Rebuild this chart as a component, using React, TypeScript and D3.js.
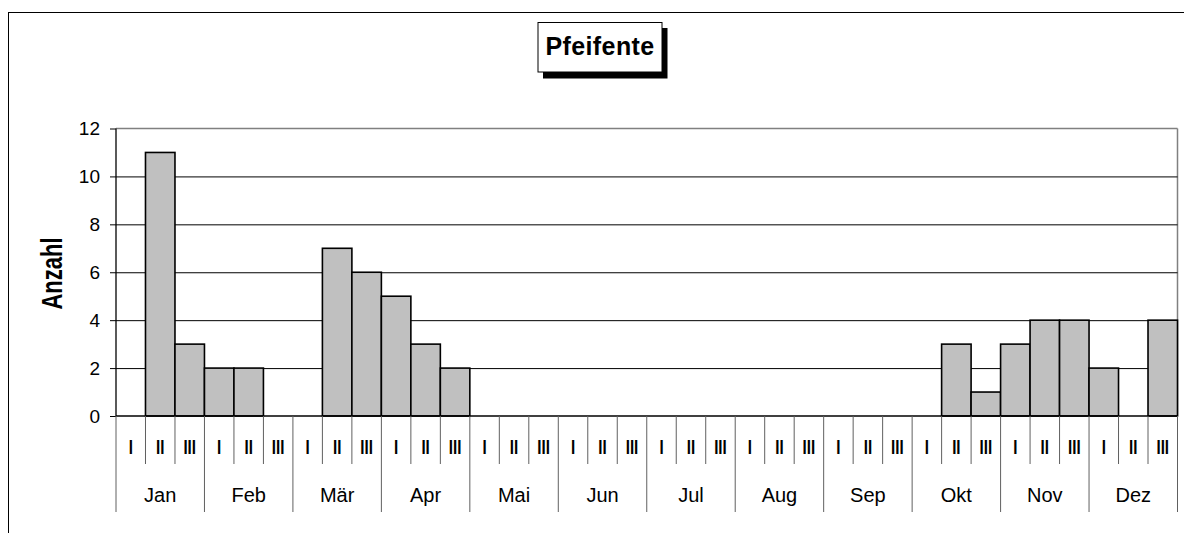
import React from "react";
import * as d3 from "d3";

const months = ["Jan", "Feb", "Mär", "Apr", "Mai", "Jun", "Jul", "Aug", "Sep", "Okt", "Nov", "Dez"];
const thirds = ["I", "II", "III"];
const values = [
  0, 11, 3,
  2, 2, 0,
  0, 7, 6,
  5, 3, 2,
  0, 0, 0,
  0, 0, 0,
  0, 0, 0,
  0, 0, 0,
  0, 0, 0,
  0, 3, 1,
  3, 4, 4,
  2, 0, 4,
];
const yTicks = [0, 2, 4, 6, 8, 10, 12];
const title = "Pfeifente";
const yLabel = "Anzahl";

const W = 1184, H = 533;
const left = 116, right = 1177.5, top = 128.5, bottom = 416;
const font = "Liberation Sans, Arial, sans-serif";

export default function App() {
  const slots = months.flatMap((m) => thirds.map((t) => `${m}-${t}`));
  const x = d3.scaleBand<string>().domain(slots).range([left, right]).padding(0);
  const y = d3.scaleLinear().domain([0, 12]).range([bottom, top]);
  const bw = x.bandwidth();
  const monthX = (i: number) => left + i * 3 * bw;

  return (
    <svg width={W} height={H} style={{ position: "absolute", left: 0, top: 0, background: "#fff" }}>
      <rect x={8.5} y={12.5} width={1300} height={700} fill="none" stroke="#000" strokeWidth={1} />
      {/* plot frame */}
      <line x1={left} x2={right} y1={y(12)} y2={y(12)} stroke="#808080" strokeWidth={1.5} />
      <line x1={right} x2={right} y1={y(12)} y2={bottom} stroke="#808080" strokeWidth={1.5} />
      {yTicks.filter((t) => t > 0 && t < 12).map((t) => (
        <line key={t} x1={left} x2={right} y1={y(t) + 0.5} y2={y(t) + 0.5} stroke="#000" strokeWidth={1} />
      ))}
      {/* bars */}
      {values.map((v, i) =>
        v > 0 ? (
          <rect
            key={i}
            x={x(slots[i])!}
            y={y(v)}
            width={bw}
            height={bottom - y(v)}
            fill="#c0c0c0"
            stroke="#000"
            strokeWidth={1.6}
          />
        ) : null
      )}
      {/* y axis */}
      <line x1={left} x2={left} y1={y(12)} y2={bottom} stroke="#000" strokeWidth={1.3} />
      {yTicks.map((t) => (
        <g key={t}>
          <line x1={left - 6} x2={left} y1={y(t) + 0.5} y2={y(t) + 0.5} stroke="#000" strokeWidth={1} />
          <text x={100} y={y(t) + 6.5} textAnchor="end" fontFamily={font} fontSize={19} fill="#000">
            {t}
          </text>
        </g>
      ))}
      <text
        transform={`translate(62,${273.5}) rotate(-90) scale(0.76,1)`}
        textAnchor="middle"
        fontFamily={font}
        fontSize={29}
        fontWeight="bold"
        fill="#000"
      >
        {yLabel}
      </text>
      {/* category axis */}
      <line x1={left} x2={right} y1={bottom} y2={bottom} stroke="#000" strokeWidth={1.3} />
      {slots.map((s, i) => (
        <g key={s}>
          {i % 3 !== 0 && (
            <line x1={x(s)!} x2={x(s)!} y1={bottom} y2={464} stroke="#606060" strokeWidth={1} />
          )}
          <text
            transform={`translate(${x(s)! + bw / 2},454) scale(0.72,1)`}
            textAnchor="middle"
            fontFamily={font}
            fontSize={21}
            fontWeight="bold"
            fill="#000"
          >
            {thirds[i % 3]}
          </text>
        </g>
      ))}
      {months.map((m, i) => (
        <g key={m}>
          <line x1={monthX(i)} x2={monthX(i)} y1={bottom} y2={512} stroke="#606060" strokeWidth={1} />
          <text x={monthX(i) + 1.5 * bw} y={502} textAnchor="middle" fontFamily={font} fontSize={20} fill="#000">
            {m}
          </text>
        </g>
      ))}
      <line x1={right} x2={right} y1={bottom} y2={512} stroke="#606060" strokeWidth={1} />
      {/* title */}
      <rect x={543} y={28} width={124.5} height={50.5} fill="#000" />
      <rect x={538} y={22.5} width={124} height={49.5} fill="#fff" stroke="#000" strokeWidth={1} />
      <text x={600} y={54.5} textAnchor="middle" fontFamily={font} fontSize={25} fontWeight="bold" letterSpacing={0.4} fill="#000">
        {title}
      </text>
    </svg>
  );
}
